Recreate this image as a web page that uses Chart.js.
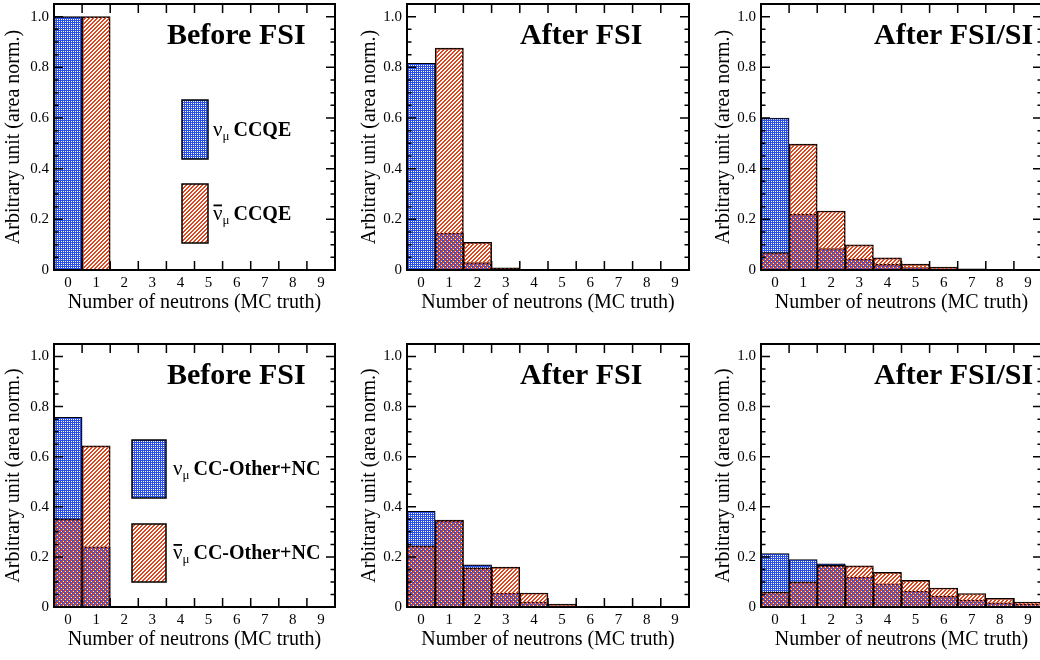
<!DOCTYPE html>
<html>
<head>
<meta charset="utf-8">
<script src="https://cdn.jsdelivr.net/npm/chart.js@4.4.0/dist/chart.umd.min.js"></script>
<style>
  html, body { margin: 0; padding: 0; background: #fff; overflow: hidden; width: 1040px; height: 660px; }
  body { position: relative; }
</style>
</head>
<body>
<script>
// bins of the histograms and y tick labels
const neutronBins = ['0', '1', '2', '3', '4', '5', '6', '7', '8', '9'];
const yTickValues = [0, 0.2, 0.4, 0.6, 0.8, 1];
const stageTitles = ['Before FSI', 'After FSI', 'After FSI/SI'];
const sampleNames = ['CCQE', 'CC-Other+NC'];

// CCQE (top row)
const ccqeNuBefore      = [1.000, 0, 0, 0, 0, 0, 0, 0, 0, 0];
const ccqeNubarBefore   = [0, 1.000, 0, 0, 0, 0, 0, 0, 0, 0];
const ccqeNuAfterFSI    = [0.816, 0.146, 0.029, 0.003, 0.001, 0, 0, 0, 0, 0];
const ccqeNubarAfterFSI = [0.003, 0.876, 0.109, 0.009, 0.002, 0, 0, 0, 0, 0];
const ccqeNuAfterSI     = [0.600, 0.220, 0.085, 0.043, 0.022, 0.010, 0.005, 0.002, 0.001, 0.001];
const ccqeNubarAfterSI  = [0.069, 0.497, 0.233, 0.099, 0.048, 0.023, 0.012, 0.005, 0.002, 0.001];

// CC-Other+NC (bottom row)
const otherNuBefore      = [0.757, 0.240, 0, 0, 0, 0, 0, 0, 0, 0];
const otherNubarBefore   = [0.352, 0.643, 0, 0, 0, 0, 0, 0, 0, 0];
const otherNuAfterFSI    = [0.382, 0.346, 0.168, 0.056, 0.020, 0.005, 0.002, 0.001, 0, 0];
const otherNubarAfterFSI = [0.244, 0.347, 0.156, 0.159, 0.056, 0.012, 0.003, 0.001, 0, 0];
const otherNuAfterSI     = [0.213, 0.189, 0.172, 0.119, 0.093, 0.063, 0.043, 0.028, 0.017, 0.012];
const otherNubarAfterSI  = [0.060, 0.100, 0.166, 0.164, 0.138, 0.106, 0.076, 0.054, 0.035, 0.020];

const nuSeries = [
  [ccqeNuBefore, ccqeNuAfterFSI, ccqeNuAfterSI],
  [otherNuBefore, otherNuAfterFSI, otherNuAfterSI]
];
const nubarSeries = [
  [ccqeNubarBefore, ccqeNubarAfterFSI, ccqeNubarAfterSI],
  [otherNubarBefore, otherNubarAfterFSI, otherNubarAfterSI]
];

// page layout (pixels); canvases start on even pixels so the fill patterns line up
const colX = [0, 346, 700], colW = [345, 349, 345];
const areaL = [54, 407, 761], areaR = [335, 689, 1042];
const yTitleX = [14, 370, 724];
const rowY = [-10, 330], rowH = [340, 330];
const areaT = [2, 340], areaB = [270, 607];
const xTitleY = [303, 640];
const legendBox = [
  { x: 128, w: 26, top: [96, 180], h: 59, gap: 5 },
  { x: 78, w: 34, top: [96, 180], h: 58, gap: 7 }
];

const serif = "'Liberation Serif', 'Times New Roman', serif";

function makeTile(kind) {
  const t = document.createElement('canvas');
  const g = t.getContext('2d');
  if (kind === 'dots') {
    // blue field with small white holes
    t.width = 2; t.height = 2;
    g.fillStyle = '#2a4fe4';
    g.fillRect(0, 0, 2, 2);
    g.clearRect(1, 1, 1, 1);
  } else {
    // "///" hatch
    t.width = 4; t.height = 4;
    g.fillStyle = '#e0441a';
    for (let x = 0; x < 4; x++)
      for (let y = 0; y < 4; y++)
        if ((x + y) % 4 < 2) g.fillRect(x, y, 1, 1);
  }
  return t;
}

// frame, inward ticks, panel title and legend in ROOT style
const rootFrame = {
  id: 'rootFrame',
  afterDatasetsDraw(chart, args, opts) {
    const { ctx, chartArea: a, scales: { x, y } } = chart;
    ctx.save();
    ctx.strokeStyle = '#000';
    ctx.lineWidth = 1.5;
    ctx.beginPath();
    for (let k = 0; k <= 21; k++) {
      const py = y.getPixelForValue(k * 0.05);
      if (py < a.top + 1) continue;
      const len = k % 4 === 0 ? 9 : 4.5;
      ctx.moveTo(a.left, py); ctx.lineTo(a.left + len, py);
      ctx.moveTo(a.right, py); ctx.lineTo(a.right - len, py);
    }
    for (let i = 0; i < neutronBins.length - 1; i++) {
      const px = (x.getPixelForValue(i) + x.getPixelForValue(i + 1)) / 2;
      ctx.moveTo(px, a.bottom); ctx.lineTo(px, a.bottom - 9);
      ctx.moveTo(px, a.top); ctx.lineTo(px, a.top + 9);
    }
    ctx.stroke();
    ctx.lineWidth = 2;
    ctx.strokeRect(a.left, a.top, a.right - a.left, a.bottom - a.top);

    ctx.fillStyle = '#000';
    ctx.textBaseline = 'alphabetic';
    ctx.font = 'bold 30px ' + serif;
    ctx.fillText(opts.title, a.left + 113, a.top + 40);

    const lg = opts.legend;
    if (lg) {
      const items = [
        { ds: chart.data.datasets[1], bar: false },
        { ds: chart.data.datasets[0], bar: true }
      ];
      items.forEach((it, j) => {
        const bx = a.left + lg.x, by = a.top + lg.top[j];
        ctx.fillStyle = it.ds.backgroundColor;
        ctx.fillRect(bx, by, lg.w, lg.h);
        ctx.lineWidth = 1.5;
        ctx.strokeRect(bx, by, lg.w, lg.h);
        const base = by + lg.h / 2 + 6;
        let tx = bx + lg.w + lg.gap;
        ctx.fillStyle = '#000';
        ctx.font = '21px ' + serif;
        ctx.fillText('ν', tx, base);
        const nw = ctx.measureText('ν').width;
        if (it.bar) ctx.fillRect(tx + 0.5, base - 15, nw - 1, 1.8);
        tx += nw;
        ctx.font = '13px ' + serif;
        ctx.fillText('μ', tx, base + 4);
        tx += ctx.measureText('μ').width + 4;
        ctx.font = 'bold 20px ' + serif;
        ctx.fillText(lg.text, tx, base);
      });
    }
    ctx.restore();
  }
};

function buildPanel(row, col) {
  const cx = colX[col], cy = rowY[row], cw = colW[col], ch = rowH[row];
  const cv = document.createElement('canvas');
  cv.width = cw; cv.height = ch;
  cv.style.cssText = `position:absolute;left:${cx}px;top:${cy}px;width:${cw}px;height:${ch}px`;
  document.body.appendChild(cv);
  const ctx = cv.getContext('2d');
  const lh = 20 * 1.2;

  const legend = col === 0 ? Object.assign({ text: sampleNames[row] }, legendBox[row]) : null;

  new Chart(cv, {
    type: 'bar',
    data: {
      labels: neutronBins,
      datasets: [
        {
          label: 'anti-nu_mu ' + sampleNames[row],
          data: nubarSeries[row][col],
          backgroundColor: ctx.createPattern(makeTile('hatch'), 'repeat'),
          borderColor: '#000',
          borderWidth: 1,
          barPercentage: 1,
          categoryPercentage: 1,
          grouped: false
        },
        {
          label: 'nu_mu ' + sampleNames[row],
          data: nuSeries[row][col],
          backgroundColor: ctx.createPattern(makeTile('dots'), 'repeat'),
          borderColor: '#000',
          borderWidth: 1,
          barPercentage: 1,
          categoryPercentage: 1,
          grouped: false
        }
      ]
    },
    options: {
      responsive: false,
      animation: false,
      devicePixelRatio: 1,
      layout: { padding: { left: 0, top: areaT[row] - cy, right: cx + cw - areaR[col], bottom: 0 } },
      plugins: {
        legend: { display: false },
        tooltip: { enabled: false },
        rootFrame: { title: stageTitles[col], legend: legend }
      },
      scales: {
        x: {
          offset: true,
          grid: { display: false, drawTicks: false },
          border: { display: false },
          ticks: { font: { family: serif, size: 15 }, color: '#000', padding: 4, maxRotation: 0, autoSkip: false },
          title: {
            display: true,
            text: 'Number of neutrons (MC truth)',
            font: { family: serif, size: 20 },
            color: '#000',
            padding: { top: 0, bottom: cy + ch - xTitleY[row] - lh / 2 }
          },
          afterFit(s) { s.height = cy + ch - areaB[row]; }
        },
        y: {
          min: 0,
          max: 1.05,
          grid: { display: false, drawTicks: false },
          border: { display: false },
          ticks: { font: { family: serif, size: 15 }, color: '#000', padding: 5 },
          afterBuildTicks(s) { s.ticks = yTickValues.map(v => ({ value: v })); },
          title: {
            display: true,
            text: 'Arbitrary unit (area norm.)',
            font: { family: serif, size: 20 },
            color: '#000',
            padding: { top: yTitleX[col] - cx - lh / 2, bottom: 0 }
          },
          afterFit(s) { s.width = areaL[col] - cx; }
        }
      }
    },
    plugins: [rootFrame]
  });
}

for (let r = 0; r < 2; r++)
  for (let c = 0; c < 3; c++)
    buildPanel(r, c);
</script>
</body>
</html>
